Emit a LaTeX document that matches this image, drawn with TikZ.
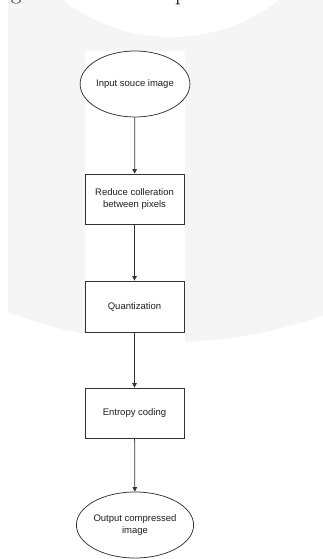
\documentclass[tikz,border=0pt]{standalone}
\usepackage{fontspec}
\newfontfamily\diagfont{Liberation Sans}
\usetikzlibrary{shapes.geometric,arrows.meta}
\definecolor{bggray}{HTML}{F5F5F5}
\definecolor{linegray}{HTML}{333333}
\definecolor{txtgray}{HTML}{1E1E1E}
\begin{document}
\begin{tikzpicture}[x=1pt,y=-1pt,
  flowbox/.style={draw=linegray,line width=0.75pt,fill=white,rectangle,minimum width=99pt,minimum height=50pt,inner sep=0pt,font=\diagfont\fontsize{9.5}{12}\selectfont,text=txtgray,align=center},
  flowterm/.style={draw=linegray,line width=0.75pt,fill=white,ellipse,minimum width=98pt,minimum height=66pt,inner sep=0pt,font=\diagfont\fontsize{9.5}{12}\selectfont,text=txtgray,align=center},
  flowarrow/.style={draw=linegray,line width=0.75pt,-{Triangle[length=4.5pt,width=4.5pt]}}]
\useasboundingbox (0,0) rectangle (323,559);
\fill[white] (0,0) rectangle (323,559);
\begin{scope}
  \clip (8,0) rectangle (323,559);
  \fill[bggray] (170,-108) circle[radius=450];
\end{scope}
\fill[white] (171,-139) circle[radius=176];
\fill[white] (85,51) rectangle (185,559);
\node[anchor=base west,inner sep=0pt,font=\fontsize{22}{22}\selectfont] (glet) at (11,0) {g};
\node[anchor=base west,inner sep=0pt,font=\fontsize{22}{22}\selectfont] (plet) at (175,0.5) {p};
\node[flowterm] (in) at (135,84) {Input souce image};
\node[flowbox] (red) at (134.5,199) {Reduce colleration\\between pixels};
\node[flowbox,minimum height=51pt] (qu) at (134.5,306.5) {Quantization};
\node[flowbox] (ent) at (134.5,413) {Entropy coding};
\node[flowterm,minimum width=99pt] (out) at (135,525) {Output compressed\\image};
\draw[flowarrow] (in) -- (red);
\draw[flowarrow] (red) -- (qu);
\draw[flowarrow] (qu) -- (ent);
\draw[flowarrow] (ent) -- (out);
\end{tikzpicture}
\end{document}
